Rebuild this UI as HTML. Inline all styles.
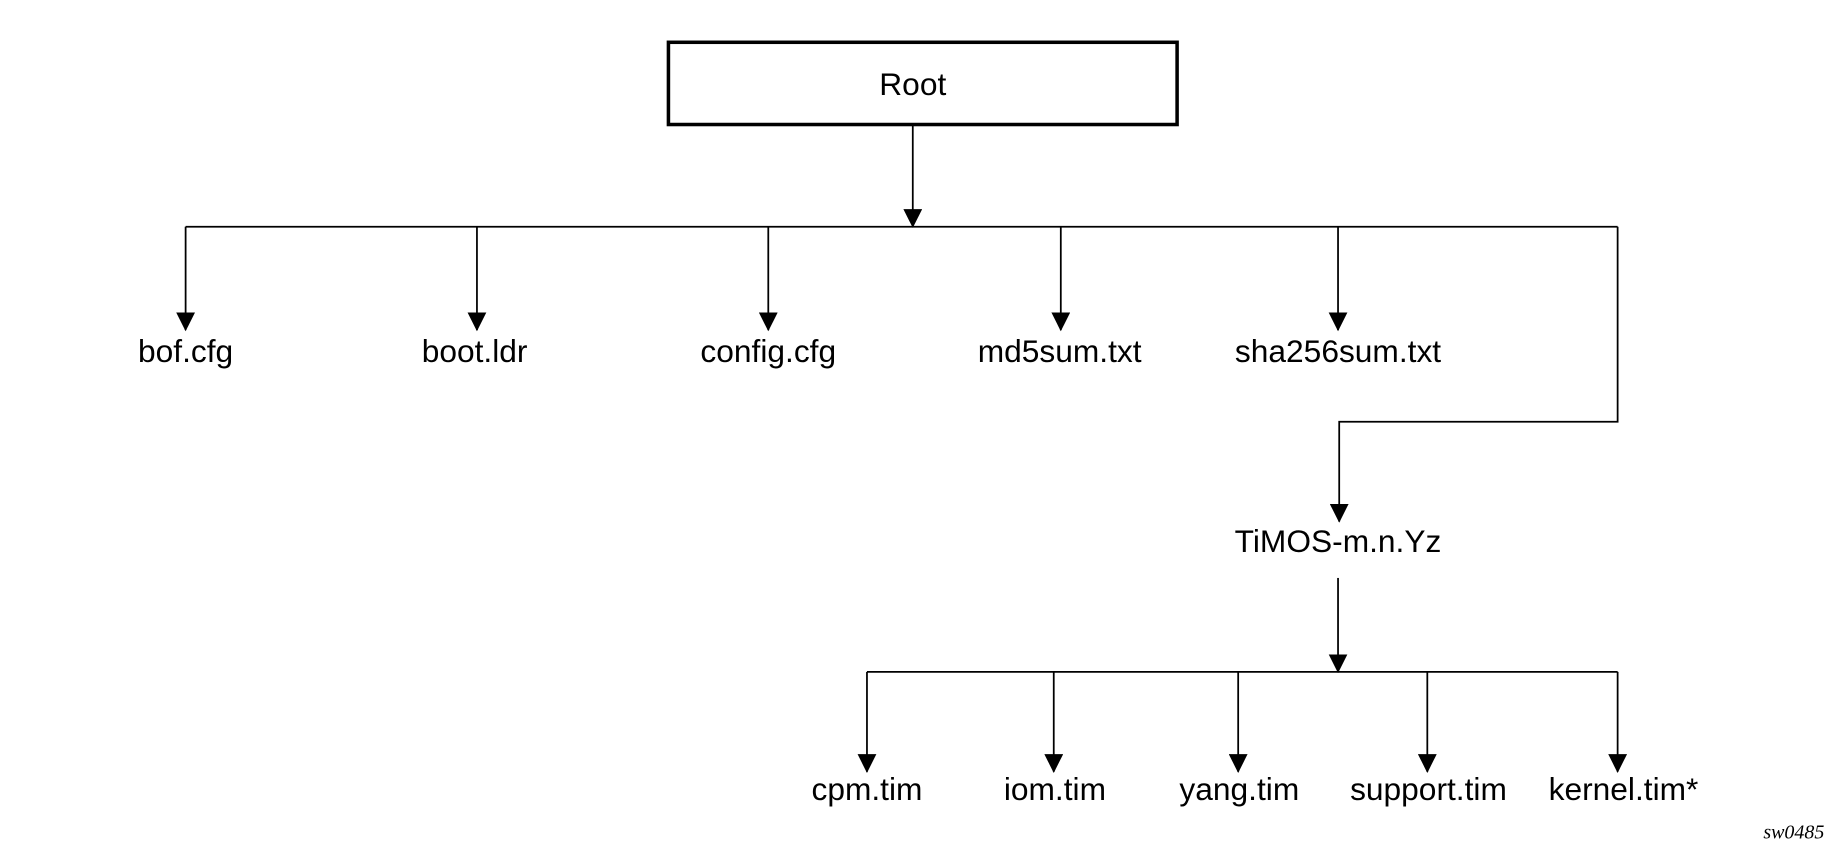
<!DOCTYPE html>
<html><head><style>html,body{margin:0;padding:0;background:#fff;}svg{display:block}</style></head>
<body>
<svg width="1842" height="854" viewBox="0 0 1568 727" preserveAspectRatio="none" xmlns="http://www.w3.org/2000/svg">
<defs><marker id="a" markerWidth="16" markerHeight="16" refX="15" refY="8" orient="auto" markerUnits="userSpaceOnUse"><path d="M0,0 L16,8 L0,16 Z" fill="#000"/></marker></defs>
<rect x="569" y="36" width="433" height="70" fill="#fff" stroke="#000" stroke-width="3"/>
<g font-family="Liberation Sans, sans-serif" font-size="27" text-anchor="middle" fill="#000">
<text x="777" y="81">Root</text>
<text x="158" y="308">bof.cfg</text>
<text x="404" y="308">boot.ldr</text>
<text x="654" y="308">config.cfg</text>
<text x="902" y="308">md5sum.txt</text>
<text x="1139" y="308">sha256sum.txt</text>
<text x="1139" y="470">TiMOS-m.n.Yz</text>
<text x="738" y="681">cpm.tim</text>
<text x="898" y="681">iom.tim</text>
<text x="1055" y="681">yang.tim</text>
<text x="1216" y="681">support.tim</text>
<text x="1382" y="681">kernel.tim*</text>
</g>
<text x="1553" y="714" font-family="Liberation Serif, serif" font-style="italic" font-size="17" text-anchor="end">sw0485</text>
<g stroke="#000" stroke-width="1.5" fill="none">
<line x1="777" y1="106" x2="777" y2="193" marker-end="url(#a)"/>
<line x1="158" y1="193" x2="1377" y2="193"/>
<line x1="158" y1="193" x2="158" y2="281" marker-end="url(#a)"/>
<line x1="406" y1="193" x2="406" y2="281" marker-end="url(#a)"/>
<line x1="654" y1="193" x2="654" y2="281" marker-end="url(#a)"/>
<line x1="903" y1="193" x2="903" y2="281" marker-end="url(#a)"/>
<line x1="1139" y1="193" x2="1139" y2="281" marker-end="url(#a)"/>
<polyline points="1377,193 1377,359 1140,359 1140,444" marker-end="url(#a)"/>
<line x1="1139" y1="492" x2="1139" y2="572" marker-end="url(#a)"/>
<line x1="738" y1="572" x2="1377" y2="572"/>
<line x1="738" y1="572" x2="738" y2="657" marker-end="url(#a)"/>
<line x1="897" y1="572" x2="897" y2="657" marker-end="url(#a)"/>
<line x1="1054" y1="572" x2="1054" y2="657" marker-end="url(#a)"/>
<line x1="1215" y1="572" x2="1215" y2="657" marker-end="url(#a)"/>
<line x1="1377" y1="572" x2="1377" y2="657" marker-end="url(#a)"/>
</g>
</svg>
</body></html>
